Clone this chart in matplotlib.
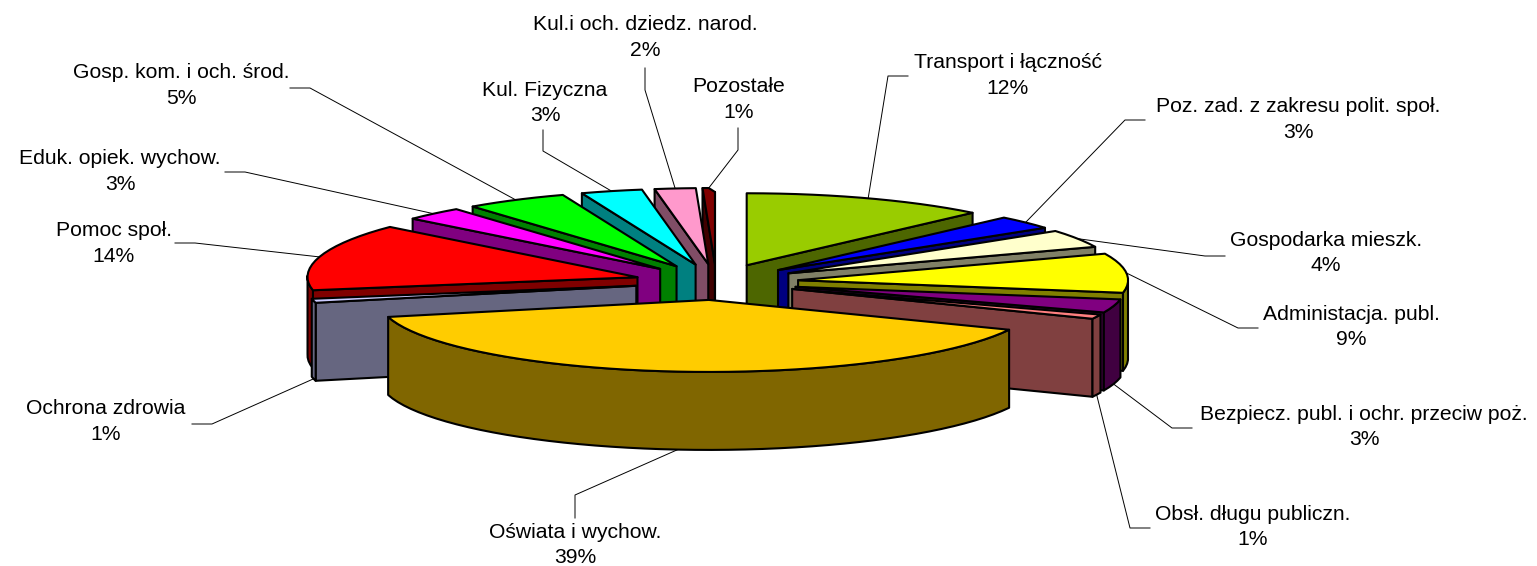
import numpy as np
import matplotlib
matplotlib.use("Agg")
import matplotlib.pyplot as plt
from matplotlib.patches import Polygon

plt.rcParams['font.family'] = ['Liberation Sans', 'DejaVu Sans']

# Datos del grafico
etiquetas = ['Transport i łączność', 'Poz. zad. z zakresu polit. społ.', 'Gospodarka mieszk.',
             'Administacja. publ.', 'Bezpiecz. publ. i ochr. przeciw poż.', 'Obsł. długu publiczn.',
             'Oświata i wychow.', 'Ochrona zdrowia', 'Pomoc społ.', 'Eduk. opiek. wychow.',
             'Gosp. kom. i och. środ.', 'Kul. Fizyczna', 'Kul.i och. dziedz. narod.', 'Pozostałe']
# porcentajes estimados del dibujo, redondeados dan lo que dicen las etiquetas
valores = [12.0, 3.0, 4.0, 8.8, 3.0, 1.0, 39.4, 0.9, 14.4, 2.9, 5.0, 3.0, 2.0, 0.6]

colores_top = ['#99CC00', '#0000FF', '#FFFFCC', '#FFFF00', '#800080', '#FF8080', '#FFCC00',
               '#CCCCFF', '#FF0000', '#FF00FF', '#00FF00', '#00FFFF', '#FF99CC', '#800000']
colores_lado = ['#4D6600', '#000080', '#808066', '#808000', '#400040', '#804040', '#806600',
                '#666680', '#800000', '#800080', '#008000', '#008080', '#804D66', '#400000']

# Posicion de los textos (centro x, y de la primera linea) y codos de las lineas guia
pos_texto = [(1008, 63), (1298, 107), (1326, 240), (1351, 314), (1364, 414), (1253, 514), (575, 532),
             (106, 409), (114, 231), (120, 159), (181, 73), (545, 90), (645, 25), (739, 87)]
codos = [[(888, 76), (908, 76)], [(1125, 120), (1145, 120)], [(1205, 256), (1225, 256)],
         [(1238, 328), (1258, 328)], [(1172, 428), (1192, 428)], [(1130, 528), (1150, 528)],
         [(575, 495), (575, 518)], [(212, 424), (192, 424)], [(195, 243), (175, 243)],
         [(245, 172), (225, 172)], [(310, 88), (290, 88)], [(543, 151), (543, 130)],
         [(645, 90), (645, 68)], [(738, 150), (738, 128)]]

# Geometria de la torta en pixeles
CX, CY = 716.5, 282
RX, RY = 330, 72
RY_ATRAS_IZQ = 76  # atras a la izquierda el original sube un poco mas
EX, EY = 82, 18
ALTO = 78


def punto(centro, theta, r=1.0):
    # theta en grados, horario desde arriba
    t = np.radians(theta)
    ry = RY_ATRAS_IZQ if np.sin(t) < 0 and np.cos(t) > 0 else RY
    return centro[0] + r * RX * np.sin(t), centro[1] - r * ry * np.cos(t)


def poligono(ax, puntos, color, z):
    ax.add_patch(Polygon(puntos, closed=True, facecolor=color, edgecolor='black',
                         linewidth=1.5, joinstyle='round', zorder=z))


def dibujar_porcion(ax, a0, a1, top, lado, z):
    medio = (a0 + a1) / 2
    t = np.radians(medio)
    apice = (CX + EX * np.sin(t), CY - EY * np.cos(t))
    n = max(int((a1 - a0) / 3), 1) + 1
    angulos = np.linspace(a0, a1, n + 1)
    borde = [punto(apice, a) for a in angulos]
    abajo = lambda p: (p[0], p[1] + ALTO)

    # cortes radiales que miran hacia el frente
    if np.sin(np.radians(a0)) < 0:
        p = borde[0]
        poligono(ax, [apice, p, abajo(p), abajo(apice)], lado, z)
    if np.sin(np.radians(a1)) > 0:
        p = borde[-1]
        poligono(ax, [apice, p, abajo(p), abajo(apice)], lado, z)

    # pared exterior, solo la parte delantera del arco
    frente = [a for a in angulos if np.cos(np.radians(a)) <= 0.02]
    if len(frente) > 1:
        arco = [punto(apice, a) for a in frente]
        poligono(ax, arco + [abajo(p) for p in arco[::-1]], lado, z + 0.1)

    poligono(ax, [apice] + borde, top, z + 0.2)


def main():
    fig = plt.figure(figsize=(15.37, 5.66), dpi=100)
    ax = fig.add_axes([0, 0, 1, 1])
    ax.set_xlim(0, 1537)
    ax.set_ylim(566, 0)
    ax.axis('off')

    total = sum(valores)
    fin = np.cumsum(valores) / total * 360
    inicio = np.concatenate(([0], fin[:-1]))
    medios = (inicio + fin) / 2

    # de atras hacia adelante
    orden = sorted(range(len(valores)), key=lambda i: -np.cos(np.radians(medios[i])))
    for z, i in enumerate(orden):
        dibujar_porcion(ax, inicio[i], fin[i], colores_top[i], colores_lado[i], 2 + z)

    for i, et in enumerate(etiquetas):
        t = np.radians(medios[i])
        apice = (CX + EX * np.sin(t), CY - EY * np.cos(t))
        x0, y0 = punto(apice, medios[i])
        if np.cos(t) < 0:
            y0 += ALTO
        xs = [x0] + [c[0] for c in codos[i]]
        ys = [y0] + [c[1] for c in codos[i]]
        ax.plot(xs, ys, color='black', linewidth=0.7, zorder=1)

        x, y = pos_texto[i]
        ax.text(x, y, et, ha='center', va='center', fontsize=15.2, color='black', zorder=50)
        ax.text(x, y + 25.5, f'{round(valores[i] / total * 100)}%', ha='center', va='center',
                fontsize=15.2, color='black', zorder=50)

    fig.savefig('out.png', dpi=100, facecolor='white')


if __name__ == "__main__":
    main()
